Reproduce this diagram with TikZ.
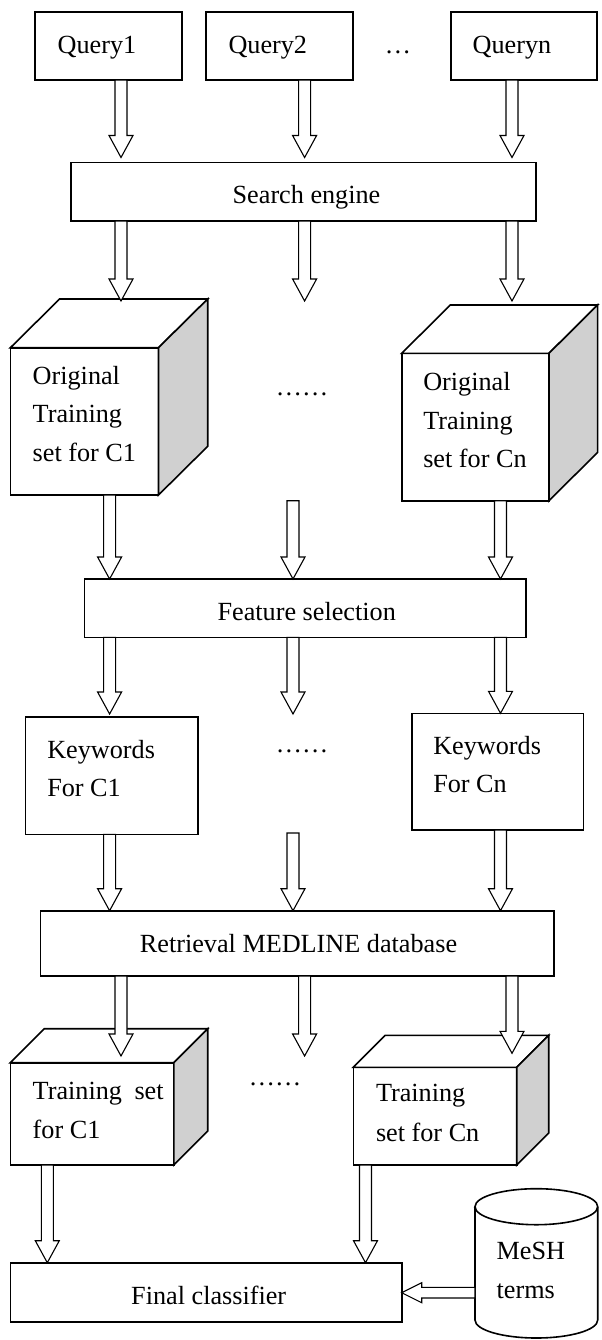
\documentclass[tikz,border=0pt]{standalone}
\usepackage{fontspec}
\setmainfont{Liberation Serif}
\usetikzlibrary{calc}
\definecolor{sidegray}{RGB}{208,208,208}
\tikzset{
  box/.style={draw, line width=0.8pt, inner sep=0pt, outer sep=0pt, fill=white},
  face/.style={draw, line width=0.8pt, line join=miter},
  lbl/.style={inner sep=0pt, outer sep=0pt, anchor=base west, align=left},
  ctr/.style={inner sep=0pt, outer sep=0pt, anchor=base},
  hollow/.style={draw, line width=0.55pt, fill=white, line join=miter},
}
% rectangle node from corner (x1,y1) to (x2,y2), in pixel units
\newcommand\boxnode[5]{\node[box, minimum width={(#4-#2)*0.5pt}, minimum height={(#5-#3)*0.5pt}] (#1) at ({(#2+#4)/2},{(#3+#5)/2}) {};}
% cube: front face node, depth dx, dy
\newcommand\cubefaces[3]{%
  \draw[face, fill=white] (#1.north west) -- ++(#2,#3) -- ($(#1.north east)+(#2,#3)$) -- (#1.north east) -- cycle;
  \draw[face, fill=sidegray] (#1.north east) -- ++(#2,#3) -- ($(#1.south east)+(#2,#3)$) -- (#1.south east) -- cycle;}
% hollow block arrow pointing down, from #1 to tip #2
\newcommand\darrow[2]{\draw[hollow] let \p1=(#1), \p2=(#2) in
  (\x1-3pt,\y1) -- (\x1-3pt,\y2+11pt) -- (\x1-6pt,\y2+11pt) -- (\x1,\y2) --
  (\x1+6pt,\y2+11pt) -- (\x1+3pt,\y2+11pt) -- (\x1+3pt,\y1) -- cycle;}
\begin{document}
\begin{tikzpicture}[x=0.5pt, y=-0.5pt, font=\fontsize{13.1}{19.25}\selectfont]
\useasboundingbox (0,0) rectangle (601,1340);

% ---------- boxes ----------
\boxnode{q1}{35}{12}{182}{80}
\boxnode{q2}{206}{12}{353}{80}
\boxnode{qn}{451}{12}{597}{80}
\boxnode{se}{71}{162.3}{536}{221}

\boxnode{oc1}{10.4}{347.7}{158.5}{495}
\cubefaces{oc1}{49.2}{-48.7}
\boxnode{ocn}{401.7}{353.3}{549}{500.7}
\cubefaces{ocn}{48.6}{-48.3}

\boxnode{fs}{84.6}{579}{525.8}{637.3}
\boxnode{kw1}{25.4}{716.7}{197.7}{834.3}
\boxnode{kwn}{411.7}{713.3}{583.3}{830}
\boxnode{rt}{40.4}{910.7}{554}{976}

\boxnode{tc1}{10.4}{1062.7}{173.8}{1165}
\cubefaces{tc1}{33.9}{-34}
\boxnode{tcn}{353.3}{1067.3}{516.7}{1165}
\cubefaces{tcn}{32}{-32}

\boxnode{fc}{10.4}{1262.7}{401.7}{1321.7}

% cylinder (MeSH terms)
\draw[face, fill=white] (475,1206.7) -- (475,1320)
  arc[start angle=180, end angle=360, x radius=30.675pt, y radius=9pt]
  -- (597.7,1206.7)
  arc[start angle=0, end angle=180, x radius=30.675pt, y radius=9pt] -- cycle;
\draw[face] (475,1206.7) arc[start angle=180, end angle=360, x radius=30.675pt, y radius=9pt];
\coordinate (cyl) at (475,1292.7);

% ---------- labels (multi-line: anchored at last line's baseline) ----------
\node[lbl] (q1t) at (57.7,53.5) {Query1};
\node[lbl] (q2t) at (228.5,53.5) {Query2};
\node[lbl] (qnt) at (472.7,53.5) {Queryn};
\node[ctr] (dots1) at (398,53.5) {…};
\node[ctr] (set) at (306.5,203) {Search engine};

\node[lbl] (oc1t) at (32.7,461) {Original\\Training\\set for C1};
\node[lbl] (ocnt) at (423.3,467.7) {Original\\Training\\set for Cn};
\node[ctr] (dots2) at (302,395) {……};

\node[ctr] (fst) at (306.7,620) {Feature selection};

\node[lbl] (kw1t) at (47.3,796.7) {Keywords\\For C1};
\node[lbl] (kwnt) at (433.3,792.7) {Keywords\\For Cn};
\node[ctr] (dots3) at (302,752) {……};

\node[ctr] (rtt) at (298.5,952) {Retrieval MEDLINE database};

\node[lbl, font=\fontsize{13.1}{19.5}\selectfont] (tc1t) at (32.7,1138) {Training\hspace{3pt} set\\for C1};
\node[lbl, font=\fontsize{13.1}{20}\selectfont] (tcnt) at (376,1141.7) {Training\\set for Cn};
\node[ctr] (dots4) at (275,1085) {……};

\node[ctr] (fct) at (208.7,1304) {Final classifier};
\node[lbl] (mesht) at (496.7,1298.3) {MeSH\\terms};

% ---------- arrow columns and rows ----------
\coordinate (cA) at (121,0);
\coordinate (cB) at (304.6,0);
\coordinate (cC) at (512,0);
\coordinate (dA) at (109.6,0);
\coordinate (dB) at (293,0);
\coordinate (dC) at (500.5,0);
\coordinate (eA) at (47.3,0);
\coordinate (eB) at (365.5,0);
\coordinate (r1) at (0,157.5);
\coordinate (r2) at (0,301);
\coordinate (r3) at (0,500.7);
\coordinate (r4) at (0,714);
\coordinate (r5) at (0,833);
\coordinate (r6) at (0,1056);
\coordinate (r6c) at (0,1053.3);

% ---------- arrows ----------
\darrow{q1.south -| cA}{r1 -| cA}
\darrow{q2.south -| cB}{r1 -| cB}
\darrow{qn.south -| cC}{r1 -| cC}

\darrow{se.south -| cA}{r2 -| cA}
\darrow{se.south -| cB}{r2 -| cB}
\darrow{se.south -| cC}{r2 -| cC}

\darrow{oc1.south -| dA}{fs.north -| dA}
\darrow{r3 -| dB}{fs.north -| dB}
\darrow{ocn.south -| dC}{fs.north -| dC}

\darrow{fs.south -| dA}{r4 -| dA}
\darrow{fs.south -| dB}{r4 -| dB}
\darrow{fs.south -| dC}{kwn.north -| dC}

\darrow{kw1.south -| dA}{rt.north -| dA}
\darrow{r5 -| dB}{rt.north -| dB}
\darrow{kwn.south -| dC}{rt.north -| dC}

\darrow{rt.south -| cA}{r6 -| cA}
\darrow{rt.south -| cB}{r6 -| cB}
\darrow{rt.south -| cC}{r6c -| cC}

\darrow{tc1.south -| eA}{fc.north -| eA}
\darrow{tcn.south -| eB}{fc.north -| eB}

% MeSH -> Final classifier
\draw[hollow] let \p1=(cyl), \p2=(fc.east |- cyl) in
  (\x1,\y1+2.65pt) -- (\x2+10pt,\y1+2.65pt) -- (\x2+10pt,\y1+5pt) -- (\x2,\y1) --
  (\x2+10pt,\y1-5pt) -- (\x2+10pt,\y1-2.65pt) -- (\x1,\y1-2.65pt) -- cycle;
\end{tikzpicture}
\end{document}
